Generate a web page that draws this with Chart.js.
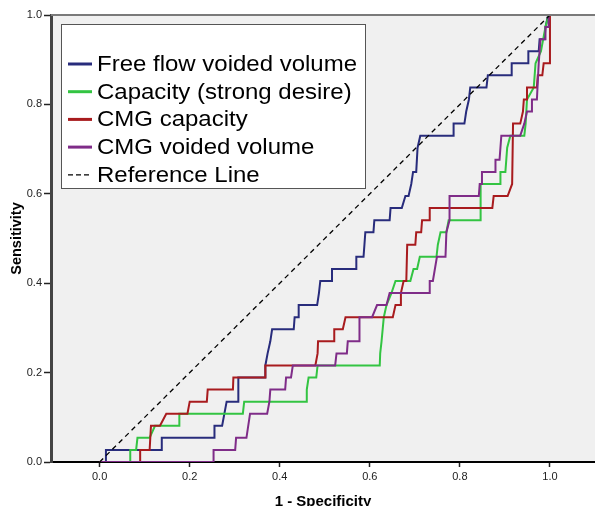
<!DOCTYPE html>
<html>
<head>
<meta charset="utf-8">
<script src="https://cdn.jsdelivr.net/npm/chart.js@4.4.0/dist/chart.umd.min.js"></script>
<style>
  html, body { margin: 0; padding: 0; background: #fff; overflow: hidden; }
</style>
</head>
<body>
<canvas id="roc" width="595" height="506"></canvas>
<script>
// ROC curves, [1 - specificity, sensitivity]
var freeFlow = [[0,0],[0.014,0],[0.014,0.027],[0.138,0.027],[0.138,0.054],[0.255,0.054],[0.255,0.081],
  [0.272,0.081],[0.282,0.135],[0.308,0.135],[0.308,0.189],[0.368,0.189],[0.368,0.216],[0.373,0.243],
  [0.379,0.27],[0.383,0.297],[0.431,0.297],[0.433,0.324],[0.442,0.324],[0.442,0.351],[0.483,0.351],
  [0.487,0.378],[0.49,0.405],[0.516,0.405],[0.516,0.432],[0.57,0.432],[0.57,0.459],[0.586,0.459],
  [0.588,0.486],[0.59,0.514],[0.608,0.514],[0.61,0.541],[0.644,0.541],[0.646,0.568],[0.671,0.568],
  [0.679,0.595],[0.686,0.595],[0.692,0.622],[0.696,0.649],[0.703,0.649],[0.706,0.703],[0.712,0.73],
  [0.785,0.73],[0.786,0.757],[0.81,0.757],[0.814,0.784],[0.82,0.811],[0.823,0.838],[0.859,0.838],
  [0.862,0.865],[0.914,0.865],[0.915,0.892],[0.952,0.892],[0.952,0.919],[0.975,0.919],[0.977,0.946],
  [0.988,0.946],[0.99,0.973],[0.996,1],[1,1]];

var capacity = [[0,0],[0.068,0],[0.068,0.027],[0.081,0.027],[0.084,0.054],[0.111,0.054],[0.123,0.081],
  [0.177,0.081],[0.177,0.108],[0.318,0.108],[0.321,0.135],[0.459,0.135],[0.46,0.162],[0.464,0.189],
  [0.481,0.189],[0.484,0.216],[0.622,0.216],[0.623,0.243],[0.626,0.27],[0.631,0.324],[0.637,0.351],
  [0.648,0.378],[0.657,0.405],[0.69,0.405],[0.697,0.432],[0.705,0.432],[0.711,0.459],[0.748,0.459],
  [0.751,0.486],[0.757,0.514],[0.77,0.514],[0.775,0.541],[0.846,0.541],[0.846,0.622],[0.89,0.622],
  [0.89,0.649],[0.901,0.649],[0.905,0.703],[0.912,0.73],[0.943,0.73],[0.946,0.757],[0.949,0.811],
  [0.964,0.838],[0.966,0.865],[0.968,0.892],[0.98,0.919],[0.985,0.946],[0.99,0.973],[0.997,1],[1,1]];

var cmgCapacity = [[0,0],[0.09,0],[0.09,0.027],[0.111,0.027],[0.114,0.081],[0.134,0.081],[0.148,0.108],
  [0.195,0.108],[0.2,0.135],[0.238,0.135],[0.24,0.162],[0.296,0.162],[0.297,0.189],[0.368,0.189],
  [0.368,0.216],[0.479,0.216],[0.484,0.243],[0.485,0.27],[0.521,0.27],[0.521,0.297],[0.54,0.297],
  [0.546,0.324],[0.651,0.324],[0.657,0.351],[0.668,0.351],[0.669,0.378],[0.675,0.405],[0.681,0.405],
  [0.683,0.486],[0.701,0.486],[0.703,0.514],[0.714,0.514],[0.716,0.541],[0.733,0.541],[0.733,0.568],
  [0.872,0.568],[0.875,0.595],[0.906,0.595],[0.916,0.622],[0.918,0.757],[0.934,0.757],[0.94,0.784],
  [0.942,0.811],[0.949,0.811],[0.949,0.838],[0.971,0.838],[0.973,0.865],[0.983,0.865],[0.986,0.892],
  [1,0.892],[1,1]];

var cmgVoided = [[0,0],[0.253,0],[0.253,0.027],[0.301,0.027],[0.303,0.054],[0.326,0.054],[0.334,0.108],
  [0.372,0.108],[0.377,0.135],[0.379,0.162],[0.412,0.162],[0.414,0.189],[0.425,0.189],[0.429,0.216],
  [0.523,0.216],[0.526,0.243],[0.549,0.243],[0.551,0.27],[0.577,0.27],[0.577,0.324],[0.605,0.324],
  [0.616,0.351],[0.637,0.351],[0.644,0.378],[0.733,0.378],[0.733,0.405],[0.74,0.405],[0.749,0.459],
  [0.768,0.459],[0.77,0.514],[0.777,0.541],[0.777,0.595],[0.842,0.595],[0.844,0.622],[0.849,0.622],
  [0.849,0.649],[0.879,0.649],[0.879,0.676],[0.888,0.676],[0.892,0.73],[0.934,0.73],[0.943,0.757],
  [0.949,0.784],[0.96,0.784],[0.96,0.811],[0.971,0.811],[0.975,0.892],[0.977,0.919],[0.979,0.946],
  [0.99,0.946],[0.99,0.973],[0.997,0.973],[0.997,1],[1,1]];

var referenceLine = [[0,0],[1,1]];

var seriesLabels = ['Free flow voided volume', 'Capacity (strong desire)', 'CMG capacity',
  'CMG voided volume', 'Reference Line'];
var tickValues = [0, 0.2, 0.4, 0.6, 0.8, 1.0];

var colors = ['#282c7c', '#33c442', '#a81b1e', '#7f2c88', '#000000'];

function toPoints(arr) {
  return arr.map(function(p) { return {x: p[0], y: p[1]}; });
}

var fam = 'Liberation Sans, Arial, sans-serif';
var tickFont = {family: fam, size: 11};

// grey plot area + top frame line
var plotBackground = {
  id: 'plotBackground',
  beforeDraw: function(chart) {
    var a = chart.chartArea, ctx = chart.ctx;
    ctx.save();
    ctx.fillStyle = '#f0f0f0';
    ctx.fillRect(a.left, a.top, a.right - a.left, a.bottom - a.top);
    ctx.restore();
  },
  afterDraw: function(chart) {
    var a = chart.chartArea, ctx = chart.ctx;
    ctx.save();
    ctx.strokeStyle = '#7a7a7a';
    ctx.lineWidth = 2;
    ctx.beginPath();
    ctx.moveTo(a.left, a.top);
    ctx.lineTo(a.right, a.top);
    ctx.stroke();
    ctx.restore();
  }
};

// boxed legend inside the plot, like SPSS
var boxLegend = {
  id: 'boxLegend',
  afterDraw: function(chart) {
    var ctx = chart.ctx;
    var bx = 61, by = 24, bw = 304, bh = 164;
    ctx.save();
    ctx.fillStyle = '#ffffff';
    ctx.fillRect(bx, by, bw, bh);
    ctx.strokeStyle = '#555';
    ctx.lineWidth = 1;
    ctx.strokeRect(bx + 0.5, by + 0.5, bw, bh);
    ctx.font = '22px "Liberation Sans", Arial, sans-serif';
    ctx.textBaseline = 'middle';
    // SPSS legend text is a little wide: stretch to the measured width
    var sx = 260 / ctx.measureText(seriesLabels[0]).width;
    chart.data.datasets.forEach(function(ds, i) {
      var y = 64 + i * 27.7;
      ctx.strokeStyle = ds.borderColor;
      ctx.lineWidth = i === 4 ? 1.2 : 3;
      ctx.setLineDash(i === 4 ? [5, 3] : []);
      ctx.beginPath();
      ctx.moveTo(68, y);
      ctx.lineTo(92, y);
      ctx.stroke();
      ctx.setLineDash([]);
      ctx.fillStyle = '#000';
      ctx.save();
      ctx.translate(97, y + 1);
      ctx.scale(sx, 1);
      ctx.fillText(ds.label, 0, 0);
      ctx.restore();
    });
    ctx.restore();
  }
};

var curves = [freeFlow, capacity, cmgCapacity, cmgVoided, referenceLine];

new Chart(document.getElementById('roc'), {
  type: 'line',
  data: {
    datasets: curves.map(function(c, i) {
      return {
        label: seriesLabels[i],
        data: toPoints(c),
        borderColor: colors[i],
        borderWidth: i === 4 ? 1.3 : 2,
        borderDash: i === 4 ? [5, 4] : [],
        pointRadius: 0,
        tension: 0,
        fill: false,
        order: [4, 3, 2, 1, 0][i]
      };
    })
  },
  options: {
    responsive: false,
    animation: false,
    layout: {padding: {top: 15, left: 0, right: 0, bottom: 0}},
    plugins: {legend: {display: false}, tooltip: {enabled: false}},
    scales: {
      x: {
        type: 'linear',
        min: -0.108,
        max: 1.1,
        afterBuildTicks: function(s) { s.ticks = tickValues.map(function(v) { return {value: v}; }); },
        afterFit: function(s) { s.height = 44; },
        ticks: {
          callback: function(v) { return v.toFixed(1); },
          font: tickFont, color: '#222', padding: 3, autoSkip: false, maxRotation: 0
        },
        grid: {drawOnChartArea: false, tickLength: 5, tickColor: '#222', tickWidth: 1.5},
        border: {color: '#000', width: 2},
        title: {display: true, text: '1 - Specificity', font: {family: fam, size: 15, weight: 'bold', lineHeight: 0.6}, color: '#000', padding: 0}
      },
      y: {
        type: 'linear',
        min: 0,
        max: 1,
        afterBuildTicks: function(s) { s.ticks = tickValues.map(function(v) { return {value: v}; }); },
        afterFit: function(s) { s.width = 51; },
        ticks: {
          callback: function(v) { return v.toFixed(1); },
          font: tickFont, color: '#222', padding: 2, autoSkip: false
        },
        grid: {drawOnChartArea: false, tickLength: 7, tickColor: '#222', tickWidth: 1.5},
        border: {color: '#444', width: 3},
        title: {display: true, text: 'Sensitivity', font: {family: fam, size: 14.5, weight: 'bold', lineHeight: 1.2}, color: '#000', padding: {top: 8, bottom: 0}}
      }
    }
  },
  plugins: [plotBackground, boxLegend]
});
</script>
</body>
</html>
